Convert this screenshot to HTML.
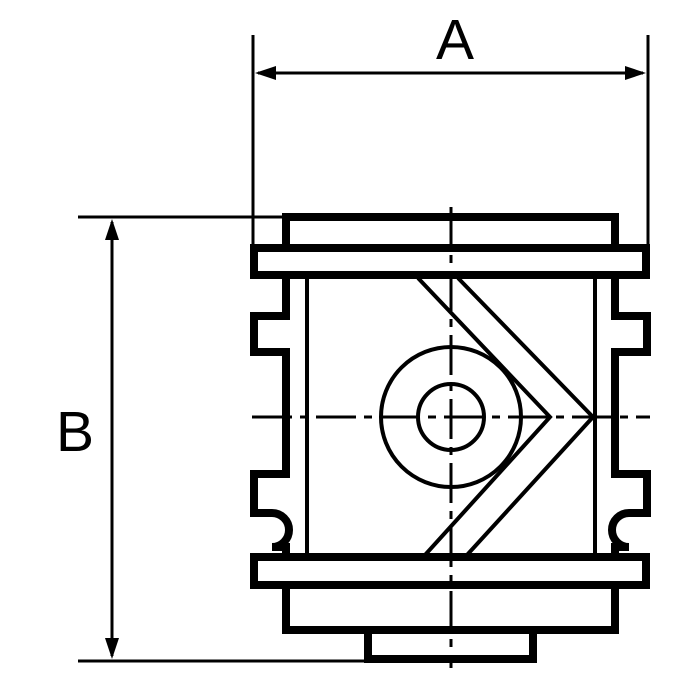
<!DOCTYPE html>
<html><head><style>html,body{margin:0;padding:0;background:#fff}svg{display:block}</style></head>
<body>
<svg width="700" height="700" viewBox="0 0 700 700" xmlns="http://www.w3.org/2000/svg">
<g fill="none" stroke="#000">
<line x1="253" y1="35" x2="253" y2="245" stroke-width="3"/>
<line x1="648" y1="35" x2="648" y2="245" stroke-width="3"/>
<line x1="258" y1="73" x2="643" y2="73" stroke-width="3"/>
<line x1="78" y1="217" x2="285" y2="217" stroke-width="3"/>
<line x1="78" y1="661" x2="368" y2="661" stroke-width="3"/>
<line x1="112" y1="222" x2="112" y2="656" stroke-width="3"/>

<path d="M286,248 V217 H615 V248" stroke-width="8"/>
<rect x="254" y="248" width="392" height="27" stroke-width="8"/>
<rect x="254" y="557" width="392" height="28" stroke-width="8"/>
<path d="M286,588 V630 H615 V588" stroke-width="8"/>
<path d="M368,630 V659 H533 V630" stroke-width="8"/>

<path d="M286,278 V316 H254 V352 H286 V474 H254 V513 H272 A17,17 0 0 1 272,547 H286 V555" stroke-width="8"/>
<path d="M615,278 V316 H647 V352 H615 V474 H647 V513 H629 A17,17 0 0 0 629,547 H615 V555" stroke-width="8"/>

<line x1="307" y1="278" x2="307" y2="555" stroke-width="4"/>
<line x1="595" y1="278" x2="595" y2="555" stroke-width="4"/>

<circle cx="451" cy="417" r="70" stroke-width="4" fill="#fff"/>
<circle cx="451" cy="417" r="33" stroke-width="4"/>

<line x1="451" y1="207" x2="451" y2="668" stroke-width="3" stroke-dasharray="40,8,8,8"/>
<line x1="252" y1="417" x2="650" y2="417" stroke-width="3" stroke-dasharray="40,8,8,8"/>
</g>
<g fill="none" stroke="#000" stroke-width="4">
<polyline points="418,278 550,417 425,555"/>
<polyline points="458,278 593,417 467,555"/>
</g>
<g fill="#000">
<polygon points="255,73 276,66 276,80"/>
<polygon points="646,73 625,66 625,80"/>
<polygon points="112,219 105,240 119,240"/>
<polygon points="112,659 105,638 119,638"/>
</g>
<text x="455" y="59" font-family="Liberation Sans, sans-serif" font-size="57" text-anchor="middle">A</text>
<text x="75" y="451" font-family="Liberation Sans, sans-serif" font-size="57" text-anchor="middle">B</text>
</svg>
</body></html>
